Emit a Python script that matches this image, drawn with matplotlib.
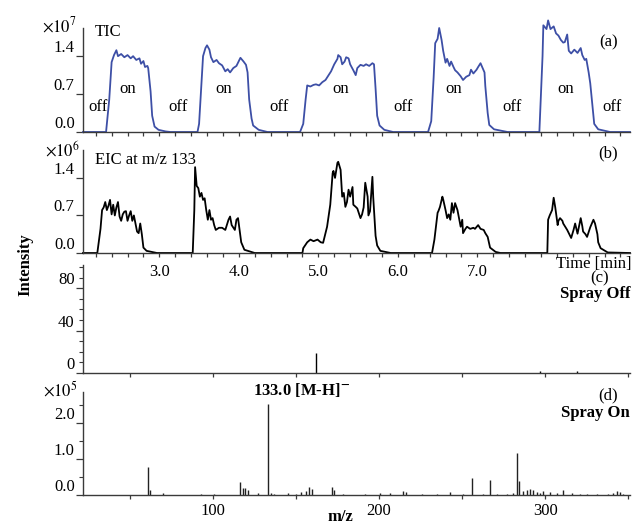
import numpy as np
import matplotlib.pyplot as plt
from matplotlib.ticker import MultipleLocator, FixedLocator

plt.rcParams['font.family'] = ['Liberation Serif', 'DejaVu Serif']
plt.rcParams['mathtext.fontset'] = 'stix'

# ---- data ----
# (a) TIC, x10^7
tic_t = [2.04, 2.33, 2.37, 2.40, 2.43, 2.46, 2.48, 2.52, 2.56, 2.60, 2.64, 2.67, 2.71, 2.75,
         2.77, 2.80, 2.82, 2.85, 2.86, 2.89, 2.91, 2.94, 2.99, 3.08, 3.14,
         3.48, 3.50, 3.53, 3.55, 3.58, 3.60, 3.63, 3.65, 3.68, 3.72, 3.75, 3.79, 3.83, 3.86,
         3.89, 3.93, 3.97, 3.99, 4.02, 4.06, 4.09, 4.11, 4.13, 4.16, 4.18, 4.25, 4.36,
         4.77, 4.81, 4.84, 4.86, 4.90, 4.94, 4.97, 5.01, 5.05, 5.09, 5.13, 5.16, 5.20, 5.24,
         5.25, 5.28, 5.30, 5.33, 5.35, 5.38, 5.40, 5.44, 5.47, 5.49, 5.53, 5.57, 5.60, 5.64,
         5.68, 5.70, 5.72, 5.74, 5.77, 5.83, 5.94,
         6.38, 6.42, 6.45, 6.47, 6.50, 6.52, 6.55, 6.57, 6.60, 6.62, 6.65, 6.67, 6.70, 6.72,
         6.75, 6.79, 6.82, 6.86, 6.90, 6.92, 6.95, 6.99, 7.01, 7.04, 7.06, 7.09, 7.10, 7.13,
         7.15, 7.21, 7.38,
         7.78, 7.82, 7.83, 7.87, 7.89, 7.92, 7.96, 7.99, 8.02, 8.05, 8.08, 8.10, 8.13, 8.15,
         8.18, 8.22, 8.26, 8.30, 8.32, 8.35, 8.37, 8.40, 8.42, 8.45, 8.47, 8.52, 8.67, 8.92]
tic_v = [0, 0, 0.6, 1.29, 1.42, 1.51, 1.40, 1.44, 1.38, 1.42, 1.36, 1.40, 1.33, 1.36,
         1.26, 1.31, 1.20, 1.22, 1.18, 0.75, 0.30, 0.10, 0.04, 0.01, 0,
         0, 0.15, 0.9, 1.40, 1.55, 1.60, 1.52, 1.38, 1.29, 1.33, 1.27, 1.23, 1.12, 1.16,
         1.10, 1.18, 1.22, 1.28, 1.37, 1.30, 1.24, 1.10, 0.60, 0.25, 0.12, 0.04, 0,
         0, 0.15, 0.6, 0.86, 0.84, 0.87, 0.88, 0.86, 0.92, 0.96, 1.05, 1.12, 1.25, 1.35,
         1.42, 1.38, 1.25, 1.30, 1.38, 1.36, 1.25, 1.14, 1.05, 1.18, 1.24, 1.22, 1.25, 1.22,
         1.27, 1.25, 0.8, 0.3, 0.12, 0.04, 0,
         0, 0.2, 1.0, 1.64, 1.72, 1.92, 1.70, 1.50, 1.28, 1.35, 1.22, 1.30, 1.20, 1.14,
         1.10, 1.03, 0.96, 1.02, 1.05, 1.15, 1.08, 1.15, 1.20, 1.27, 1.20, 1.10, 0.85, 0.35,
         0.13, 0.05, 0,
         0, 1.4, 1.97, 1.90, 2.06, 1.90, 1.95, 1.82, 1.78, 1.70, 1.65, 1.66, 1.80, 1.50,
         1.45, 1.52, 1.46, 1.55, 1.42, 1.33, 1.35, 1.10, 0.90, 0.45, 0.15, 0.05, 0, 0]

# (b) EIC at m/z 133, x10^6
eic_t = [2.04, 2.22, 2.26, 2.28, 2.30, 2.32, 2.34, 2.36, 2.38, 2.40, 2.42, 2.44, 2.46, 2.48,
         2.50, 2.52, 2.54, 2.56, 2.58, 2.60, 2.62, 2.64, 2.66, 2.68, 2.70, 2.72, 2.74, 2.76,
         2.78, 2.80, 2.84, 2.97,
         3.42, 3.44, 3.45, 3.47, 3.49, 3.51, 3.53, 3.55, 3.57, 3.59, 3.61, 3.63, 3.65, 3.67,
         3.69, 3.71, 3.75, 3.79, 3.83, 3.87, 3.89, 3.91, 3.95, 3.97, 3.99, 4.01, 4.03, 4.07,
         4.20,
         4.80, 4.81, 4.86, 4.90, 4.94, 4.99, 5.03, 5.06, 5.11, 5.15, 5.18, 5.19, 5.21, 5.24,
         5.25, 5.28, 5.30, 5.32, 5.34, 5.36, 5.38, 5.40, 5.43, 5.44, 5.47, 5.49, 5.53, 5.55,
         5.57, 5.59, 5.62, 5.63, 5.65, 5.68, 5.69, 5.72, 5.74, 5.78, 5.91,
         6.43, 6.46, 6.50, 6.51, 6.53, 6.56, 6.57, 6.60, 6.62, 6.64, 6.66, 6.68, 6.70, 6.72,
         6.75, 6.76, 6.79, 6.81, 6.82, 6.85, 6.87, 6.91, 6.95, 6.97, 7.01, 7.04, 7.08, 7.10,
         7.13, 7.16, 7.23, 7.29,
         7.88, 7.89, 7.91, 7.94, 7.96, 7.98, 8.01, 8.02, 8.04, 8.07, 8.08, 8.13, 8.18, 8.21,
         8.23, 8.26, 8.30, 8.32, 8.33, 8.36, 8.38, 8.42, 8.46, 8.48, 8.51, 8.52, 8.55, 8.64,
         8.92]
eic_v = [0, 0, 0.45, 0.80, 0.85, 0.95, 0.80, 0.88, 0.99, 0.72, 0.90, 0.70, 0.85, 0.95,
         0.68, 0.60, 0.72, 0.77, 0.78, 0.60, 0.70, 0.78, 0.60, 0.70, 0.55, 0.40, 0.37, 0.55,
         0.35, 0.10, 0.04, 0,
         0, 0.8, 1.60, 1.25, 1.21, 1.05, 1.12, 0.99, 1.02, 0.80, 0.62, 0.80, 0.62, 0.65,
         0.52, 0.43, 0.47, 0.47, 0.43, 0.62, 0.68, 0.52, 0.43, 0.62, 0.65, 0.43, 0.20, 0.06,
         0,
         0, 0.09, 0.20, 0.25, 0.22, 0.25, 0.20, 0.19, 0.49, 0.90, 1.49, 1.53, 1.40, 1.68,
         1.70, 1.55, 1.05, 1.12, 0.86, 0.95, 1.18, 1.05, 1.23, 0.90, 0.86, 0.83, 0.65, 0.72,
         0.85, 1.31, 1.05, 0.70, 0.78, 1.42, 1.05, 0.32, 0.14, 0.04, 0,
         0, 0.25, 0.75, 0.78, 0.86, 1.05, 1.00, 0.80, 0.65, 0.72, 0.62, 0.93, 0.75, 0.93,
         0.80, 0.72, 0.49, 0.62, 0.37, 0.45, 0.49, 0.45, 0.47, 0.45, 0.52, 0.45, 0.43, 0.37,
         0.30, 0.10, 0.02, 0,
         0, 0.62, 0.70, 0.80, 1.03, 0.85, 0.52, 0.60, 0.65, 0.60, 0.55, 0.43, 0.28, 0.43,
         0.55, 0.36, 0.65, 0.50, 0.40, 0.35, 0.30, 0.48, 0.62, 0.55, 0.35, 0.20, 0.09, 0.01,
         0]

# on / off labels along the TIC
state_t = [2.23, 2.60, 3.23, 3.81, 4.50, 5.28, 6.06, 6.70, 7.44, 8.11, 8.70]
state_lab = ['off', 'on', 'off', 'on', 'off', 'on', 'off', 'on', 'off', 'on', 'off']

# (c) spray off spectrum (absolute counts)
off_mz = [162, 297, 319]
off_int = [19, 2, 2]

# (d) spray on spectrum, x10^5
on_mz = [61, 62, 70, 93, 101, 116.3, 118.3, 119.7, 121.3, 127.3, 133.0, 135.3, 137,
         145.4, 150.4, 153.4, 156, 158, 159.8, 171.5, 172.9, 178.5, 191.6, 200.6, 206.6,
         214.7, 216.3, 225.7, 234.8, 242.8, 250.8, 255.8, 262.8, 266.9, 270.9, 276.9, 280.9,
         283.1, 284.3, 286.9, 288.9, 290.9, 292.9, 294.9, 296.9, 298.9, 302.9, 306.9, 310.9,
         316, 321, 325, 331, 338, 341, 343, 345, 347]
on_int = [0.77, 0.15, 0.05, 0.02, 0.02, 0.36, 0.20, 0.18, 0.14, 0.06, 2.52, 0.05, 0.03,
          0.06, 0.03, 0.08, 0.12, 0.22, 0.17, 0.22, 0.15, 0.04, 0.03, 0.06, 0.06,
          0.12, 0.08, 0.03, 0.03, 0.07, 0.03, 0.47, 0.04, 0.42, 0.04, 0.03, 0.06,
          1.16, 0.40, 0.12, 0.15, 0.17, 0.13, 0.08, 0.06, 0.10, 0.08, 0.06, 0.13,
          0.05, 0.04, 0.04, 0.03, 0.04, 0.06, 0.10, 0.07, 0.04]

# ---- figure ----
W, H = 641, 526
fig = plt.figure(figsize=(W / 100, H / 100), dpi=100)
FS = 12
AX = '#3a3a3a'


def box(top, bottom):
    return [83 / W, 1 - bottom / H, (630 - 83) / W, (bottom - top) / H]


def style(ax):
    for s in ['top', 'right']:
        ax.spines[s].set_visible(False)
    for s in ['left', 'bottom']:
        ax.spines[s].set_color(AX)
        ax.spines[s].set_linewidth(1.0)
    ax.tick_params(axis='y', which='major', length=5, width=0.9, color=AX,
                   labelsize=FS, pad=1)
    ax.tick_params(axis='y', which='minor', length=3, width=0.8, color=AX)
    ax.tick_params(axis='x', which='both', length=3, width=0.9, color=AX,
                   labelsize=FS, direction='out')
    ax.patch.set_alpha(0)


ax_a = fig.add_axes(box(28, 132))
ax_b = fig.add_axes(box(150, 253))
ax_c = fig.add_axes(box(265, 373))
ax_d = fig.add_axes(box(392, 495))

# (a) TIC
ax_a.plot(tic_t, tic_v, color='#3d4fa6', lw=1.3, clip_on=False)
ax_a.set_xlim(2.04, 8.92)
ax_a.set_ylim(0, 1.92)
ax_a.set_yticks([0, 0.7, 1.4])
ax_a.set_yticklabels(['0.0', '0.7', '1.4'])
ax_a.xaxis.set_major_locator(MultipleLocator(0.2))
ax_a.set_xticklabels([])
style(ax_a)
for t, lab in zip(state_t, state_lab):
    yy = 0.79 if lab == 'on' else 0.46
    ax_a.text(t, yy, lab, fontsize=FS, ha='center', va='center')
ax_a.text(-0.075, 1.02, r'$\times10^{7}$', transform=ax_a.transAxes, fontsize=FS,
          ha='left', va='center')
ax_a.text(0.022, 0.96, 'TIC', transform=ax_a.transAxes, fontsize=FS, va='center')
ax_a.text(0.96, 0.86, '(a)', transform=ax_a.transAxes, fontsize=FS, ha='center',
          va='center')

# (b) EIC
ax_b.plot(eic_t, eic_v, color='black', lw=1.3, clip_on=False)
ax_b.set_xlim(2.04, 8.92)
ax_b.set_ylim(0, 1.92)
ax_b.set_yticks([0, 0.7, 1.4])
ax_b.set_yticklabels(['0.0', '0.7', '1.4'])
ax_b.set_xticks([3, 4, 5, 6, 7])
ax_b.set_xticklabels(['3.0', '4.0', '5.0', '6.0', '7.0'])
ax_b.xaxis.set_minor_locator(MultipleLocator(0.2))
style(ax_b)
ax_b.tick_params(axis='x', which='major', pad=5)
ax_b.text(-0.07, 1.0, r'$\times10^{6}$', transform=ax_b.transAxes, fontsize=FS,
          ha='left', va='center')
ax_b.text(0.022, 0.9, 'EIC at m/z 133', transform=ax_b.transAxes, fontsize=FS,
          va='center')
ax_b.text(0.96, 0.97, '(b)', transform=ax_b.transAxes, fontsize=FS, ha='center',
          va='center')
ax_b.text(8.46, -0.105, 'Time [min]', transform=ax_b.get_xaxis_transform(),
          fontsize=FS, ha='center', va='center')

# (c) spray off
ax_c.vlines(off_mz, 0, off_int, color='black', lw=1.0)
ax_c.set_xlim(22, 351)
ax_c.set_ylim(0, 102)
ax_c.set_yticks([0, 40, 80])
ax_c.yaxis.set_minor_locator(MultipleLocator(10))
ax_c.xaxis.set_major_locator(MultipleLocator(50))
ax_c.set_xticklabels([])
style(ax_c)
ax_c.text(0.945, 0.875, '(c)', transform=ax_c.transAxes, fontsize=FS, ha='center',
          va='center')
ax_c.text(1.0, 0.73, 'Spray Off', transform=ax_c.transAxes, fontsize=FS,
          fontweight='bold', ha='right', va='center')

# (d) spray on
ax_d.vlines(on_mz, 0, on_int, color='#222222', lw=1.0)
ax_d.set_xlim(22, 351)
ax_d.set_ylim(0, 2.85)
ax_d.set_yticks([0, 1, 2])
ax_d.set_yticklabels(['0.0', '1.0', '2.0'])
ax_d.yaxis.set_minor_locator(MultipleLocator(0.5))
ax_d.set_xticks([100, 200, 300])
ax_d.xaxis.set_minor_locator(MultipleLocator(50))
style(ax_d)
ax_d.tick_params(axis='x', which='major', pad=3)
ax_d.text(-0.073, 1.02, r'$\times10^{5}$', transform=ax_d.transAxes, fontsize=FS,
          ha='left', va='center')
ax_d.text(0.31, 1.02, r'133.0 [M-H]$^{\mathbf{-}}$', transform=ax_d.transAxes,
          fontsize=FS, fontweight='bold', ha='left', va='center')
ax_d.text(0.96, 0.97, '(d)', transform=ax_d.transAxes, fontsize=FS, ha='center',
          va='center')
ax_d.text(1.0, 0.80, 'Spray On', transform=ax_d.transAxes, fontsize=FS,
          fontweight='bold', ha='right', va='center')
ax_d.text(0.47, -0.21, 'm/z', transform=ax_d.transAxes, fontsize=FS,
          fontweight='bold', ha='center', va='center')

for ax in [ax_a, ax_b, ax_c, ax_d]:
    for lab in ax.get_yticklabels():
        lab.set_verticalalignment('bottom')

fig.text(25 / W, 1 - 265 / H, 'Intensity', rotation=90, fontsize=FS,
         fontweight='bold', ha='center', va='center')

fig.savefig('out.png', dpi=100)
